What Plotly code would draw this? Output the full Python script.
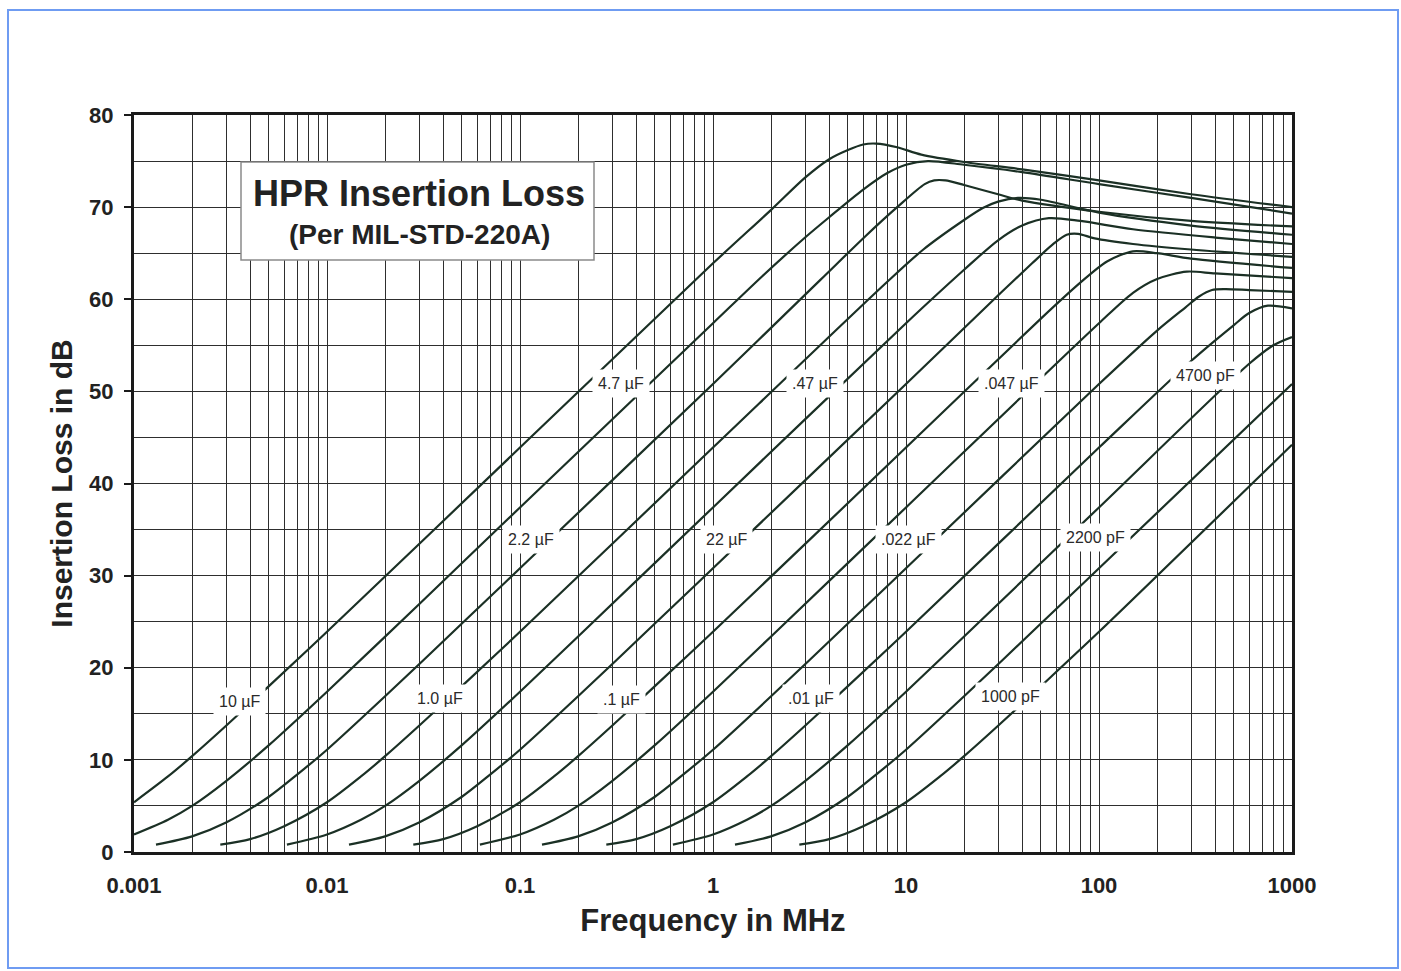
import math
import plotly.graph_objects as go

# ---------------- data ----------------
f_10uF = [0.001, 0.0015, 0.002, 0.003, 0.005, 0.01, 0.1, 1, 2, 3, 4, 5, 6, 7, 9, 12, 20, 40, 100, 300, 1000]
il_10uF = [5.4, 8.2, 10.4, 13.7, 18.0, 23.9, 43.9, 63.9, 69.7, 73.2, 75.2, 76.2, 76.8, 76.9, 76.5, 75.7, 74.9, 74.1, 72.9, 71.4, 70.0]

f_4u7F = [0.001, 0.0015, 0.002, 0.003, 0.005, 0.01, 0.03, 0.1, 1, 1.8, 3, 4, 6, 8, 10, 13, 20, 40, 100, 300, 1000]
il_4u7F = [1.9, 3.5, 5.0, 7.7, 11.6, 17.4, 26.9, 37.4, 57.4, 62.5, 66.7, 68.9, 71.9, 73.7, 74.6, 75.0, 74.6, 73.8, 72.5, 71.0, 69.3]

f_2u2F = [0.0013, 0.002, 0.003, 0.005, 0.007, 0.01, 0.02, 0.05, 0.1, 1, 3.6, 6.2, 9, 12.5, 14, 16, 20, 30, 40, 100, 300, 1000]
il_2u2F = [0.8, 1.7, 3.2, 6.0, 8.4, 11.1, 16.9, 24.8, 30.8, 50.8, 62.1, 66.9, 70.0, 72.5, 72.9, 72.9, 72.4, 71.4, 70.7, 69.5, 68.5, 67.9]

f_1u0F = [0.0028, 0.004, 0.006, 0.01, 0.015, 0.02, 0.03, 0.05, 0.1, 1, 8, 12.3, 20, 25, 30, 38, 50, 100, 300, 1000]
il_1u0F = [0.8, 1.4, 2.8, 5.4, 8.2, 10.4, 13.7, 18.0, 23.9, 43.9, 61.9, 65.4, 68.6, 69.9, 70.6, 71.0, 70.8, 69.4, 68.0, 67.0]

f_u47F = [0.0062, 0.01, 0.015, 0.02, 0.03, 0.05, 0.1, 0.2, 1, 10, 20, 30, 40, 55, 80, 150, 400, 1000]
il_u47F = [0.8, 1.9, 3.5, 5.0, 7.7, 11.6, 17.4, 23.4, 37.4, 57.4, 63.2, 66.4, 68.0, 68.8, 68.5, 67.6, 66.7, 66.0]

f_u22F = [0.013, 0.02, 0.03, 0.05, 0.07, 0.1, 0.2, 0.5, 1, 10, 31, 45, 58, 68, 78, 95, 150, 300, 1000]
il_u22F = [0.8, 1.7, 3.2, 6.0, 8.4, 11.1, 16.9, 24.8, 30.8, 50.8, 60.7, 63.9, 66.0, 67.0, 67.1, 66.6, 66.0, 65.4, 64.6]

f_u1F = [0.028, 0.04, 0.06, 0.1, 0.15, 0.2, 0.3, 0.5, 1, 10, 50, 80, 110, 150, 200, 300, 1000]
il_u1F = [0.8, 1.4, 2.8, 5.4, 8.2, 10.4, 13.7, 18.0, 23.9, 43.9, 57.9, 61.8, 64.1, 65.2, 65.0, 64.4, 63.4]

f_u047F = [0.062, 0.1, 0.15, 0.2, 0.3, 0.5, 1, 2, 10, 100, 150, 200, 285, 400, 1000]
il_u047F = [0.8, 1.9, 3.5, 5.0, 7.7, 11.6, 17.4, 23.4, 37.4, 57.4, 60.7, 62.2, 63.0, 62.8, 62.3]

f_u022F = [0.13, 0.2, 0.3, 0.5, 0.7, 1, 2, 5, 10, 100, 200, 280, 330, 385, 450, 600, 1000]
il_u022F = [0.8, 1.7, 3.2, 6.0, 8.4, 11.1, 16.9, 24.8, 30.8, 50.8, 56.6, 59.1, 60.3, 61.0, 61.1, 61.0, 60.8]

f_u01F = [0.28, 0.4, 0.6, 1, 1.5, 2, 3, 5, 10, 100, 300, 500, 600, 750, 1000]
il_u01F = [0.8, 1.4, 2.8, 5.4, 8.2, 10.4, 13.7, 18.0, 23.9, 43.9, 53.3, 57.2, 58.5, 59.3, 59.0]

f_4700pF = [0.62, 1, 1.5, 2, 3, 5, 10, 20, 100, 600, 800, 1000]
il_4700pF = [0.8, 1.9, 3.5, 5.0, 7.7, 11.6, 17.4, 23.4, 37.4, 53.0, 55.0, 55.9]

f_2200pF = [1.3, 2, 3, 5, 7, 10, 20, 50, 100, 1000]
il_2200pF = [0.8, 1.7, 3.2, 6.0, 8.4, 11.1, 16.9, 24.8, 30.8, 50.8]

f_1000pF = [2.8, 4, 6, 10, 15, 20, 30, 50, 100, 1000]
il_1000pF = [0.8, 1.4, 2.8, 5.4, 8.2, 10.4, 13.7, 18.0, 23.9, 44.2]

series = [
    (f_10uF, il_10uF), (f_4u7F, il_4u7F), (f_2u2F, il_2u2F), (f_1u0F, il_1u0F),
    (f_u47F, il_u47F), (f_u22F, il_u22F), (f_u1F, il_u1F), (f_u047F, il_u047F),
    (f_u022F, il_u022F), (f_u01F, il_u01F), (f_4700pF, il_4700pF),
    (f_2200pF, il_2200pF), (f_1000pF, il_1000pF),
]

# curve labels (text, frequency MHz, dB)
label_text = ["10 µF", "1.0 µF", ".1 µF", ".01 µF", "1000 pF",
              "2.2 µF", "22 µF", ".022 µF", "2200 pF",
              "4.7 µF", ".47 µF", ".047 µF", "4700 pF"]
label_freq = [0.00353, 0.0383, 0.334, 3.22, 34.8,
              0.1146, 1.17, 10.3, 96,
              0.334, 3.37, 35.2, 356]
label_db = [16.3, 16.7, 16.5, 16.7, 16.9,
            33.9, 33.9, 33.9, 34.1,
            50.9, 50.9, 50.9, 51.7]

x_tick_vals = [0.001, 0.01, 0.1, 1, 10, 100, 1000]
x_tick_text = ["0.001", "0.01", "0.1", "1", "10", "100", "1000"]
x_minor_vals = [m * d for d in [0.001, 0.01, 0.1, 1, 10, 100] for m in range(2, 10)]
y_tick_vals = [0, 10, 20, 30, 40, 50, 60, 70, 80]

# ---------------- figure ----------------
FONT = "Arial, Liberation Sans, Helvetica, sans-serif"
GRID = "#2e2e2e"
CURVE = "#1b3025"
TXT = "#222222"

fig = go.Figure()
for fx, fy in series:
    fig.add_trace(go.Scatter(
        x=fx, y=fy, mode="lines",
        line=dict(color=CURVE, width=2.2, shape="spline", smoothing=0.8),
        showlegend=False, hoverinfo="skip"))

# annotations on a log axis take log10 positions
for t, fx, fy in zip(label_text, label_freq, label_db):
    fig.add_annotation(x=math.log10(fx), y=fy, xref="x", yref="y", text=t, showarrow=False,
                       xanchor="center", yanchor="middle",
                       font=dict(family=FONT, size=16, color="#2a2a2a"),
                       bgcolor="white", borderpad=5)

PL, PR, PT, PB = 134, 1292, 115, 852
W, H = PR - PL, PB - PT
def px(x):
    return (x - PL) / W
def py(y):
    return (PB - y) / H

# title box
fig.add_shape(type="rect", xref="paper", yref="paper",
              x0=px(241), x1=px(594), y0=py(260), y1=py(162),
              fillcolor="white", line=dict(color="#8a8a8a", width=1.5), layer="above")
fig.add_annotation(xref="paper", yref="paper", x=px(419), y=py(194), showarrow=False,
                   xanchor="center", yanchor="middle",
                   text="HPR Insertion Loss",
                   font=dict(family=FONT, size=36, color=TXT, weight="bold"))
fig.add_annotation(xref="paper", yref="paper", x=px(419), y=py(234), showarrow=False,
                   xanchor="center", yanchor="middle",
                   text="(Per MIL-STD-220A)",
                   font=dict(family=FONT, size=28, color=TXT, weight="bold"))

# outer light-blue frame
fig.add_shape(type="rect", xref="paper", yref="paper",
              x0=px(8), x1=px(1398), y0=py(968), y1=py(10),
              line=dict(color="#6f9cf2", width=2), fillcolor="rgba(0,0,0,0)", layer="above")

fig.update_layout(
    width=1401, height=971,
    margin=dict(l=PL, r=1401 - PR, t=PT, b=971 - PB),
    paper_bgcolor="white", plot_bgcolor="white",
    font=dict(family=FONT, color=TXT),
    xaxis=dict(
        type="log", range=[-3, 3],
        tickvals=x_tick_vals, ticktext=x_tick_text,
        showgrid=True, gridcolor=GRID, gridwidth=1,
        minor=dict(tickvals=x_minor_vals, showgrid=True, gridcolor=GRID, gridwidth=1, ticks=""),
        showline=True, linewidth=3, linecolor="#1a1a1a", mirror=True,
        ticks="", ticklabelstandoff=12, zeroline=False,
        tickfont=dict(family=FONT, size=22, color=TXT, weight="bold"),
        title=dict(text="Frequency in MHz", standoff=12,
                   font=dict(family=FONT, size=31, color=TXT, weight="bold")),
    ),
    yaxis=dict(
        range=[0, 80], tickvals=y_tick_vals,
        showgrid=True, gridcolor=GRID, gridwidth=1,
        minor=dict(dtick=5, showgrid=True, gridcolor=GRID, gridwidth=1, ticks=""),
        showline=True, linewidth=3, linecolor="#1a1a1a", mirror=True,
        ticks="outside", ticklen=7, tickcolor="#1a1a1a", tickwidth=1.5,
        ticklabelstandoff=6, zeroline=False,
        tickfont=dict(family=FONT, size=22, color=TXT, weight="bold"),
        title=dict(text="Insertion Loss in dB", standoff=8,
                   font=dict(family=FONT, size=30, color=TXT, weight="bold")),
    ),
)

fig.write_html("out.html", config={"displayModeBar": False},
               post_script="document.body.style.margin='0px';")
